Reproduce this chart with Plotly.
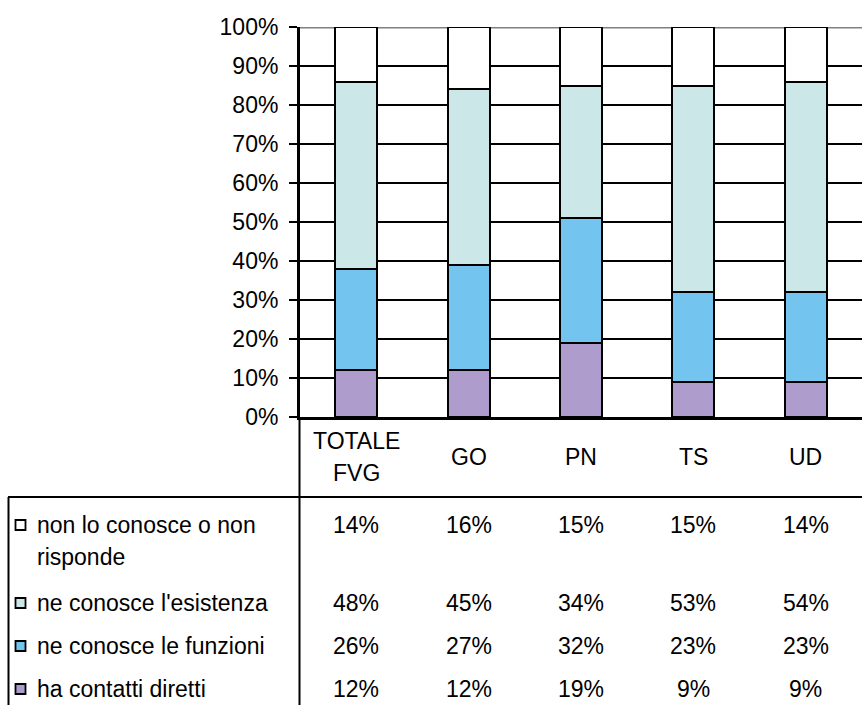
import plotly.graph_objects as go

categories = ["TOTALE<br>FVG", "GO", "PN", "TS", "UD"]
series_names = ["ha contatti diretti", "ne conosce le funzioni",
                "ne conosce l'esistenza", "non lo conosce o non<br>risponde"]
ha_contatti = [12, 12, 19, 9, 9]
funzioni = [26, 27, 32, 23, 23]
esistenza = [48, 45, 34, 53, 54]
non_conosce = [14, 16, 15, 15, 14]
series_values = [ha_contatti, funzioni, esistenza, non_conosce]
colors = ["#AD9CCC", "#73C4EE", "#CBE7E8", "#FFFFFF"]
y_ticks = [0, 10, 20, 30, 40, 50, 60, 70, 80, 90, 100]

W, H = 862, 705
FONT = "Liberation Sans, Arial, sans-serif"
FS = 23


def X(px):
    return px / W


def Y(py):
    return 1 - py / H


fig = go.Figure()
for name, vals, col in zip(series_names, series_values, colors):
    fig.add_trace(go.Bar(x=categories, y=vals, name=name, width=0.375,
                         marker=dict(color=col, line=dict(color="black", width=2)),
                         showlegend=False))

annotations = []
# category labels
for c in categories:
    lines = c.split("<br>")
    n = len(lines)
    for i, ln in enumerate(lines):
        py = 457 + (i - (n - 1) / 2) * 32
        annotations.append(dict(x=c, xref="x", y=Y(py), yref="paper", text=ln,
                                showarrow=False, xanchor="center", yanchor="middle",
                                font=dict(family=FONT, size=FS, color="black")))

# table rows (top row = last series)
row_y = {3: 525, 2: 603, 1: 646, 0: 689}
shapes = []
for si in [3, 2, 1, 0]:
    py = row_y[si]
    lines = series_names[si].split("<br>")
    for i, ln in enumerate(lines):
        annotations.append(dict(x=X(35), xref="paper", y=Y(py + i * 32), yref="paper",
                                text=ln, showarrow=False, xanchor="left", yanchor="middle",
                                font=dict(family=FONT, size=FS, color="black")))
    shapes.append(dict(type="rect", xref="paper", yref="paper",
                       x0=X(15.5), x1=X(25.5), y0=Y(py - 5), y1=Y(py + 5),
                       fillcolor=colors[si], line=dict(color="black", width=1.8)))
    for c, v in zip(categories, series_values[si]):
        annotations.append(dict(x=c, xref="x", y=Y(py), yref="paper", text=f"{v}%",
                                showarrow=False, xanchor="center", yanchor="middle",
                                font=dict(family=FONT, size=FS, color="black")))

# gray 100% line
shapes.append(dict(type="line", xref="paper", yref="y", x0=X(300), x1=1, y0=100, y1=100,
                   line=dict(color="#808080", width=3), layer="between"))
# table lines
shapes.append(dict(type="line", xref="paper", yref="paper", x0=X(299.5), x1=X(299.5),
                   y0=Y(417), y1=0, line=dict(color="black", width=2)))
shapes.append(dict(type="line", xref="paper", yref="paper", x0=X(8), x1=1,
                   y0=Y(497), y1=Y(497), line=dict(color="black", width=2)))
shapes.append(dict(type="line", xref="paper", yref="paper", x0=X(8.5), x1=X(8.5),
                   y0=Y(497), y1=0, line=dict(color="black", width=2)))

fig.update_layout(
    width=W, height=H, margin=dict(l=0, r=0, t=0, b=0, autoexpand=False),
    paper_bgcolor="white", plot_bgcolor="white",
    barmode="stack", bargap=0.625,
    xaxis=dict(domain=[X(300), 1], showline=True, linecolor="black", linewidth=3,
               showticklabels=False, ticks="", showgrid=False, zeroline=False,
               fixedrange=True, automargin=False),
    yaxis=dict(domain=[Y(417), Y(27)], range=[0, 100], tickvals=y_ticks,
               ticktext=[f"{t}%" for t in y_ticks], showline=True, linecolor="black",
               linewidth=3, ticks="outside", ticklen=8, tickwidth=1.5, tickcolor="black",
               showgrid=True, gridcolor="black", gridwidth=1.5, zeroline=False,
               ticklabelstandoff=6, automargin=False,
               tickfont=dict(family=FONT, size=FS, color="black")),
    annotations=annotations, shapes=shapes,
)
fig.write_html("out.html")
